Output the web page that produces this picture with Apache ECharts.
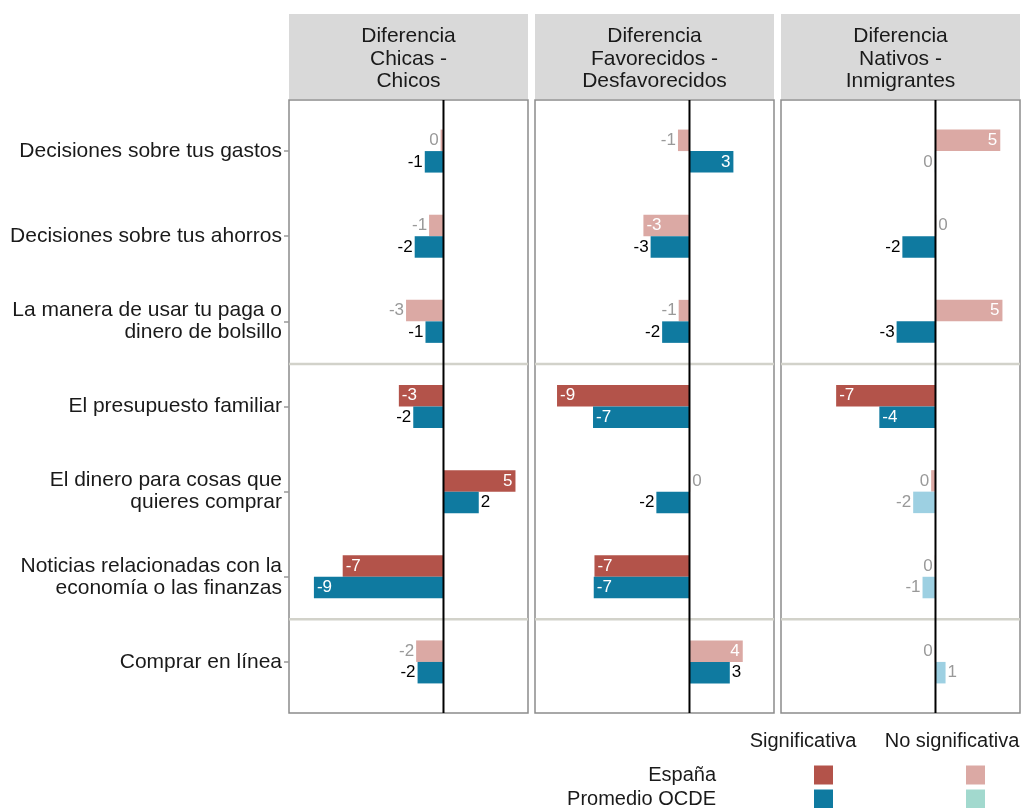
<!DOCTYPE html>
<html>
<head>
<meta charset="utf-8">
<script src="https://cdn.jsdelivr.net/npm/echarts@6/dist/echarts.min.js"></script>
<style>
  html, body { margin: 0; padding: 0; background: #fff; }
  #chart { width: 1021px; height: 808px; }
</style>
</head>
<body>
<div id="chart"></div>
<script>
// categorias (de arriba a abajo)
const categorias = [
  'Decisiones sobre tus gastos',
  'Decisiones sobre tus ahorros',
  'La manera de usar tu paga o\ndinero de bolsillo',
  'El presupuesto familiar',
  'El dinero para cosas que\nquieres comprar',
  'Noticias relacionadas con la\neconomía o las finanzas',
  'Comprar en línea'
];
const paneles = [
  'Diferencia\nChicas -\nChicos',
  'Diferencia\nFavorecidos -\nDesfavorecidos',
  'Diferencia\nNativos -\nInmigrantes'
];

// valores
const espanaChicas = [-0.2, -1.0, -2.6, -3.1, 5.0, -7.0, -1.9];
const ocdeChicas   = [-1.3, -2.0, -1.25, -2.1, 2.45, -9.0, -1.8];
const sigEspanaChicas = [0, 0, 0, 1, 1, 1, 0];
const sigOcdeChicas   = [1, 1, 1, 1, 1, 1, 1];

const espanaFavor = [-0.8, -3.2, -0.75, -9.2, 0.05, -6.6, 3.7];
const ocdeFavor   = [3.05, -2.7, -1.9, -6.7, -2.3, -6.65, 2.8];
const sigEspanaFavor = [0, 0, 0, 1, 0, 1, 0];
const sigOcdeFavor   = [1, 1, 1, 1, 1, 1, 1];

const espanaNativos = [4.5, 0.05, 4.65, -6.9, -0.3, -0.05, -0.05];
const ocdeNativos   = [-0.05, -2.3, -2.7, -3.9, -1.55, -0.9, 0.7];
const sigEspanaNativos = [0, 0, 0, 1, 0, 0, 0];
const sigOcdeNativos   = [0, 1, 1, 1, 0, 0, 0];

const leyendaFilas = ['España', 'Promedio OCDE'];
const leyendaCols = ['Significativa', 'No significativa'];

const datos = [
  { esp: espanaChicas, ocde: ocdeChicas, sigE: sigEspanaChicas, sigO: sigOcdeChicas },
  { esp: espanaFavor, ocde: ocdeFavor, sigE: sigEspanaFavor, sigO: sigOcdeFavor },
  { esp: espanaNativos, ocde: ocdeNativos, sigE: sigEspanaNativos, sigO: sigOcdeNativos }
];

const colores = {
  espSig: '#b3534a', espNo: '#dba9a4',
  ocdeSig: '#0f7aa0', ocdeNo: '#9dd0e2',
  ocdeNoLeyenda: '#a2d9ce'
};
const fuente = '"Liberation Sans", Arial, sans-serif';

const xMin = -10.73, xMax = 5.87;
const panelLeft = [289, 535, 781];
const panelW = 239;
const bodyTop = 100, bodyH = 613;
const band = bodyH / 7.2;

function item(v, sig, esEsp) {
  const color = esEsp ? (sig ? colores.espSig : colores.espNo) : (sig ? colores.ocdeSig : colores.ocdeNo);
  const dentro = Math.abs(v) >= 2.95;
  const pos = dentro ? (v < 0 ? 'insideLeft' : 'insideRight') : (v < 0 ? 'left' : 'right');
  return {
    value: v,
    itemStyle: { color: color },
    label: {
      show: true,
      position: pos,
      distance: dentro ? 3 : 2,
      color: dentro ? '#fff' : (sig ? '#000' : '#999'),
      fontSize: 17,
      fontFamily: fuente,
      formatter: String(Math.round(v))
    }
  };
}

const grid = [], xAxis = [], yAxis = [], series = [], graphic = [];

paneles.forEach(function (titulo, p) {
  const gMarco = 2 * p, gDatos = 2 * p + 1;
  grid.push({
    left: panelLeft[p], top: bodyTop, width: panelW, height: bodyH,
    show: true, backgroundColor: '#fff', borderColor: '#8c8c8c', borderWidth: 1.5
  });
  grid.push({
    left: panelLeft[p], top: bodyTop + 0.1 * band, width: panelW, height: 7 * band
  });
  xAxis.push({ type: 'value', gridIndex: gMarco, min: xMin, max: xMax, show: false });
  xAxis.push({ type: 'value', gridIndex: gDatos, min: xMin, max: xMax, show: false });
  yAxis.push({ type: 'value', gridIndex: gMarco, min: -0.6, max: 6.6, inverse: true, show: false });
  yAxis.push({
    type: 'category', gridIndex: gDatos, data: categorias, inverse: true,
    axisLine: { show: false, onZero: false },
    splitLine: { show: false },
    axisTick: { show: p === 0, length: 5, alignWithLabel: true, lineStyle: { color: '#999', width: 1.5 } },
    axisLabel: { show: p === 0, fontSize: 21, fontFamily: fuente, color: '#1a1a1a', lineHeight: 22, margin: 7 }
  });

  const d = datos[p];
  series.push({
    name: 'España', type: 'bar', xAxisIndex: gDatos, yAxisIndex: gDatos,
    barWidth: 21.5, barGap: '0%', animation: false,
    data: d.esp.map(function (v, i) { return item(v, d.sigE[i], true); })
  });
  series.push({
    name: 'Promedio OCDE', type: 'bar', xAxisIndex: gDatos, yAxisIndex: gDatos,
    barWidth: 21.5, barGap: '0%', animation: false,
    data: d.ocde.map(function (v, i) { return item(v, d.sigO[i], false); })
  });
  // separadores de grupos
  [2.5, 5.5].forEach(function (yv) {
    series.push({
      type: 'line', xAxisIndex: gMarco, yAxisIndex: gMarco, silent: true, animation: false,
      symbol: 'none', z: 1, lineStyle: { color: '#d2d2ca', width: 2.5 },
      data: [[xMin, yv], [xMax, yv]]
    });
  });
  // linea del cero
  series.push({
    type: 'line', xAxisIndex: gMarco, yAxisIndex: gMarco, silent: true, animation: false,
    symbol: 'none', z: 10, lineStyle: { color: '#000', width: 2 },
    data: [[0, -0.6], [0, 6.6]]
  });

  // cabecera del panel
  graphic.push({
    type: 'rect', shape: { x: panelLeft[p], y: 14, width: panelW, height: 85 },
    style: { fill: '#d9d9d9' }, silent: true
  });
  graphic.push({
    type: 'text', silent: true,
    style: {
      text: titulo, x: panelLeft[p] + panelW / 2, y: 59,
      align: 'center', verticalAlign: 'middle',
      fontSize: 21, fontFamily: fuente, fill: '#1a1a1a', lineHeight: 22.5
    }
  });
});

// leyenda
const colX = [803, 952], sqX = [814, 966], filaY = [775, 799];
leyendaCols.forEach(function (t, c) {
  graphic.push({
    type: 'text', silent: true,
    style: { text: t, x: colX[c], y: 741, align: 'center', verticalAlign: 'middle', fontSize: 20, fontFamily: fuente, fill: '#1a1a1a' }
  });
});
const legColores = [[colores.espSig, colores.espNo], [colores.ocdeSig, colores.ocdeNoLeyenda]];
leyendaFilas.forEach(function (t, r) {
  graphic.push({
    type: 'text', silent: true,
    style: { text: t, x: 716, y: filaY[r], align: 'right', verticalAlign: 'middle', fontSize: 20, fontFamily: fuente, fill: '#1a1a1a' }
  });
  [0, 1].forEach(function (c) {
    graphic.push({
      type: 'rect', silent: true,
      shape: { x: sqX[c], y: filaY[r] - 9.5, width: 19, height: 19 },
      style: { fill: legColores[r][c] }
    });
  });
});

const myChart = echarts.init(document.getElementById('chart'));
myChart.setOption({
  backgroundColor: '#fff',
  animation: false,
  textStyle: { fontFamily: fuente },
  grid: grid,
  xAxis: xAxis,
  yAxis: yAxis,
  series: series,
  graphic: graphic
});
</script>
</body>
</html>
